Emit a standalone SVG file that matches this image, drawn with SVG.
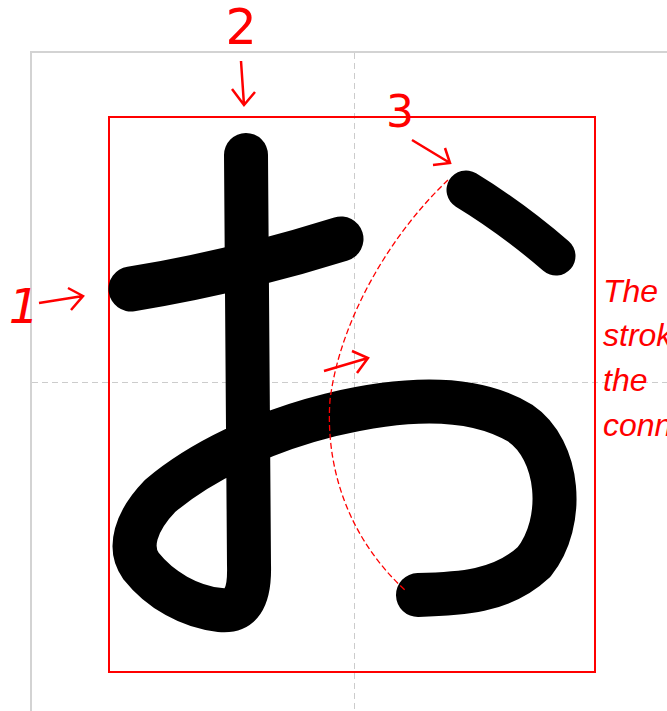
<svg xmlns="http://www.w3.org/2000/svg" width="667" height="711" viewBox="0 0 667 711">
<style>
.grid{stroke:#d3d3d3;stroke-width:2;fill:none}
.guide{stroke:#cccccc;stroke-width:1;stroke-dasharray:6,4;fill:none}
.frame{stroke:#ff0000;stroke-width:2;fill:none}
.stk{stroke:#000;fill:none;stroke-linecap:round;stroke-linejoin:round}
.arr{stroke:#ff0000;stroke-width:2.5;fill:none;stroke-linecap:butt;stroke-linejoin:miter}
.num{fill:#ff0000;font-family:"DejaVu Sans",Verdana,sans-serif;text-anchor:middle}
.note{fill:#ff0000;font-family:"Liberation Sans",Arial,sans-serif;font-style:italic;font-size:32px}
</style>
<rect width="667" height="711" fill="#fff"/>
<g id="grid">
<path class="grid" d="M31,711 V52 H667"/>
<path class="guide" d="M354.5,53 V711 M32,382.5 H667"/>
</g>
<g id="frame"><rect class="frame" x="109" y="117" width="486" height="555"/></g>
<g id="stroke1"><path class="stk" stroke-width="45" d="M131,289 Q236,272 341,239"/></g>
<g id="stroke2"><path class="stk" stroke-width="44" d="M246,155 L249,565 C250,600 240,612 220,610 C190,607 160,590 141,566 C128,548 135,522 160,496 C200,462 262,432 330,415 C400,398 470,393 520,423 C560,450 566,522 534,562 C502,592 460,594 418,595"/></g>
<g id="stroke3"><path class="stk" stroke-width="39" d="M466,190 Q512,218 556,256"/></g>
<g id="connectors">
<path d="M448,180 C390,235 340,320 330,400 C325,470 350,540 406,591" stroke="#ff0000" stroke-width="1.3" stroke-dasharray="6,3" fill="none"/>
<path class="arr" d="M39,303 L83,296 M68,288 L83,296 L71,310"/>
<path class="arr" d="M241,61 L244,105 M232,89 L244,105 L255,92"/>
<path class="arr" d="M412,140 L450,163 M445,148 L450,163 L433,165"/>
<path class="arr" d="M324,371 L368,358 M352,351 L368,358 L357,373"/>
</g>
<g id="labels">
<text class="num" x="24" y="323" font-size="48" font-style="italic">1</text>
<text class="num" x="241" y="44" font-size="49">2</text>
<text class="num" x="400" y="127" font-size="44">3</text>
<text class="note" x="603" y="302">The</text>
<text class="note" x="603" y="346">stroke</text>
<text class="note" x="603" y="391">the</text>
<text class="note" x="603" y="436">connect</text>
</g>
</svg>
